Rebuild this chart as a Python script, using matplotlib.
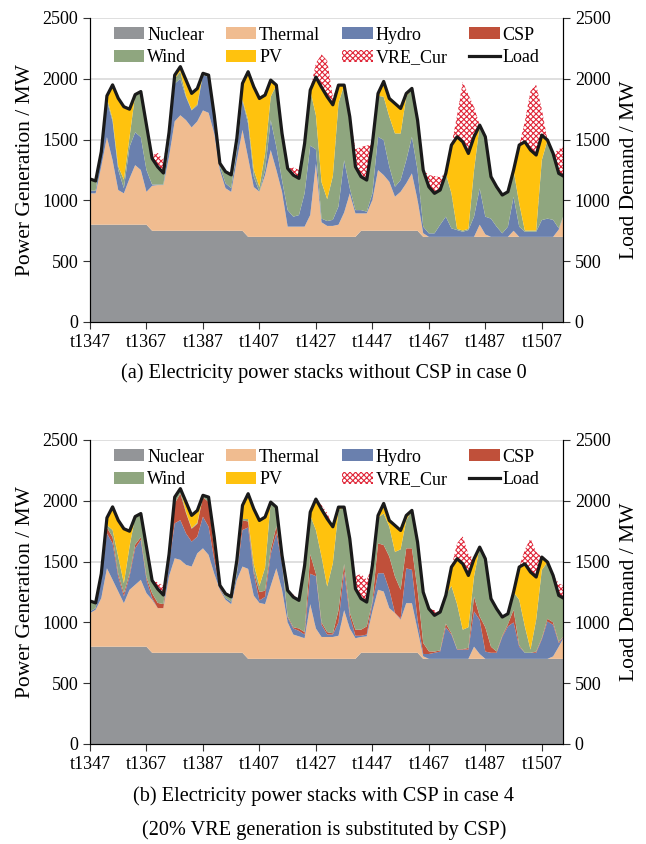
import numpy as np
import matplotlib
matplotlib.use("Agg")
import matplotlib.pyplot as plt

plt.rcParams['font.family'] = ['Liberation Serif', 'DejaVu Serif']
plt.rcParams['hatch.linewidth'] = 0.8

# hours shown, every 2nd hour from t1347
hours = list(range(1347, 1516, 2))
tick_hours = [1347, 1367, 1387, 1407, 1427, 1447, 1467, 1487, 1507]
tick_labels = ['t%d' % h for h in tick_hours]

load = [1176, 1160, 1400, 1860, 1950, 1840, 1770, 1750, 1870, 1895,
        1620, 1345, 1275, 1225, 1560, 2030, 2100, 1990, 1880, 1920,
        2045, 2030, 1700, 1305, 1236, 1210, 1510, 1962, 2058, 1934,
        1838, 1866, 1989, 1948, 1551, 1263, 1208, 1181, 1468, 1907,
        2014, 1930, 1852, 1786, 1948, 1948, 1688, 1277, 1195, 1167,
        1468, 1879, 1978, 1838, 1797, 1756, 1879, 1921, 1660, 1249,
        1112, 1058, 1085, 1222, 1455, 1523, 1482, 1386, 1523, 1619,
        1523, 1195, 1112, 1044, 1071, 1249, 1455, 1482, 1414, 1373,
        1537, 1496, 1386, 1222, 1195]

nuclear = [800] * 11 + [750] * 17 + [700] * 20 + [750] * 11 + [700] * 26

# ---- case 0 (no CSP)
thermal_a = [258, 258, 480, 720, 530, 285, 258, 380, 490, 450,
             270, 370, 376, 376, 610, 900, 950, 910, 850, 900,
             990, 970, 800, 500, 350, 320, 580, 830, 650, 410,
             371, 508, 714, 550, 371, 84, 84, 84, 84, 180,
             600, 120, 90, 90, 100, 200, 358, 193, 143, 143,
             253, 499, 458, 403, 280, 321, 390, 472, 253, 30,
             0, 0, 0, 0, 0, 0, 0, 0, 0, 100,
             20, 0, 0, 0, 0, 50, 0, 0, 0, 0,
             0, 0, 0, 60, 193]
hydro_a = [22, 22, 100, 300, 320, 165, 42, 260, 270, 270,
           180, 10, 4, 4, 110, 310, 300, 190, 140, 130,
           290, 295, 140, 30, 40, 30, 84, 240, 280, 85,
           0, 42, 246, 190, 96, 136, 82, 95, 274, 570,
           120, 30, 40, 50, 150, 430, 42, 27, 27, 14,
           55, 274, 288, 124, 82, 96, 191, 301, 246, 54,
           29, 29, 100, 166, 70, 56, 42, 56, 166, 299,
           146, 150, 84, 29, 84, 280, 84, 42, 42, 42,
           138, 150, 140, 10, 2]
csp_a = [0] * 85
wind_a = [96, 80, 20, 20, 20, 30, 70, 80, 310, 375,
          370, 215, 145, 95, 90, 40, 60, 10, 5, 10,
          15, 15, 10, 25, 96, 110, 96, 10, 30, 55,
          39, 136, 192, 508, 384, 343, 342, 302, 410, 457,
          280, 300, 180, 360, 850, 618, 588, 357, 275, 260,
          410, 337, 356, 411, 439, 383, 521, 398, 411, 465,
          383, 329, 285, 356, 288, 10, 10, 10, 383, 520,
          657, 345, 328, 315, 287, 219, 191, 10, 10, 10,
          493, 646, 546, 452, 300]
pv_a = [0, 0, 0, 20, 280, 560, 600, 230, 0, 0,
        0, 0, 0, 0, 0, 30, 40, 130, 135, 130,
        0, 0, 0, 0, 0, 0, 0, 132, 398, 684,
        728, 480, 137, 0, 0, 0, 0, 0, 0, 0,
        314, 780, 842, 586, 148, 0, 0, 0, 0, 0,
        0, 19, 126, 150, 246, 206, 27, 0, 0, 0,
        0, 0, 0, 0, 397, 757, 730, 620, 274, 0,
        0, 0, 0, 0, 0, 0, 480, 730, 662, 621,
        206, 0, 0, 0, 0]
cur_a = [0, 0, 0, 0, 0, 10, 0, 0, 0, 0,
         0, 25, 115, 105, 0, 0, 0, 0, 0, 0,
         0, 0, 0, 0, 0, 0, 0, 0, 0, 0,
         0, 24, 0, 0, 0, 0, 62, 69, 0, 0,
         115, 270, 298, 64, 0, 0, 0, 143, 245, 283,
         0, 0, 0, 0, 0, 0, 0, 0, 0, 0,
         96, 142, 105, 0, 0, 177, 493, 484, 247, 0,
         0, 0, 0, 0, 0, 0, 0, 168, 486, 577,
         213, 0, 0, 198, 255]

# ---- case 4 (20% VRE replaced by CSP)
thermal_b = [276, 304, 399, 645, 550, 454, 358, 468, 509, 550,
             440, 436, 367, 367, 630, 777, 764, 723, 709, 818,
             859, 805, 650, 518, 436, 400, 600, 709, 740, 520,
             460, 450, 600, 745, 568, 300, 200, 185, 170, 450,
             250, 180, 180, 180, 190, 400, 250, 170, 130, 135,
             340, 518, 504, 367, 327, 272, 408, 408, 190, 21,
             0, 0, 0, 0, 0, 0, 0, 0, 100, 40,
             0, 0, 0, 0, 0, 0, 0, 0, 0, 0,
             0, 0, 20, 100, 185]
hydro_b = [14, 13, 151, 287, 300, 123, 55, 109, 300, 328,
           110, 13, 0, 0, 100, 287, 327, 259, 205, 137,
           260, 232, 114, 12, 14, 20, 50, 301, 340, 180,
           20, 60, 260, 287, 218, 40, 50, 45, 30, 250,
           430, 100, 20, 20, 110, 320, 100, 20, 10, 15,
           68, 136, 150, 151, 0, 8, 287, 274, 82, 19,
           40, 50, 60, 260, 200, 76, 76, 76, 290, 282,
           60, 50, 50, 180, 267, 300, 100, 50, 50, 50,
           160, 308, 260, 30, 5]
csp_b = [0, 0, 20, 48, 50, 23, 27, 23, 31, 22,
         20, 41, 43, 33, 40, 164, 219, 168, 106, 105,
         161, 203, 86, 10, 0, 0, 0, 80, 50, 20,
         70, 50, 40, 58, 14, 10, 10, 20, 20, 160,
         20, 20, 20, 10, 100, 60, 30, 50, 50, 67,
         12, 246, 232, 273, 300, 238, 164, 177, 246, 91,
         22, 10, 10, 30, 10, 4, 4, 14, 123, 28,
         200, 50, 10, 10, 18, 104, 10, 0, 0, 10,
         10, 22, 20, 10, 5]
wind_b = [86, 43, 30, 20, 60, 141, 82, 223, 230, 195,
          250, 105, 115, 75, 40, 42, 30, 10, 5, 10,
          15, 40, 100, 15, 36, 40, 110, 10, 20, 60,
          50, 190, 389, 158, 51, 213, 248, 231, 548, 320,
          360, 541, 375, 576, 823, 468, 608, 337, 255, 200,
          298, 210, 260, 246, 203, 332, 232, 312, 392, 418,
          350, 298, 315, 232, 390, 370, 160, 170, 164, 569,
          563, 395, 352, 154, 86, 145, 376, 217, 26, 262,
          562, 466, 386, 382, 300]
pv_b = [0, 0, 0, 60, 190, 299, 448, 127, 0, 0,
        0, 0, 0, 0, 0, 10, 10, 80, 105, 100,
        0, 0, 0, 0, 0, 0, 0, 112, 208, 454,
        538, 416, 0, 0, 0, 0, 0, 0, 0, 27,
        254, 389, 557, 300, 25, 0, 0, 0, 0, 0,
        0, 19, 82, 51, 217, 156, 38, 0, 0, 0,
        0, 0, 0, 0, 155, 373, 542, 426, 146, 0,
        0, 0, 0, 0, 0, 0, 269, 515, 638, 351,
        105, 0, 0, 0, 0]
cur_b = [0, 0, 0, 0, 0, 0, 0, 0, 0, 0,
         0, 0, 55, 75, 0, 0, 0, 0, 0, 0,
         0, 0, 0, 0, 0, 0, 0, 0, 0, 0,
         0, 0, 0, 0, 0, 0, 22, 0, 0, 0,
         0, 34, 48, 0, 0, 0, 0, 103, 205, 183,
         0, 0, 0, 0, 0, 0, 0, 0, 0, 0,
         0, 42, 0, 0, 0, 127, 228, 174, 0, 0,
         0, 0, 0, 0, 0, 0, 0, 118, 276, 207,
         0, 0, 0, 100, 105]

names = ['Nuclear', 'Thermal', 'Hydro', 'CSP', 'Wind', 'PV']
colors = ['#939598', '#F0BC90', '#6A80AE', '#C0503A', '#8FA67F', '#FFC20E']
cur_color = '#E0283A'


def draw_panel(ax, series, cur):
    polys = ax.stackplot(hours, *series, colors=colors, labels=names, linewidth=0)
    top = np.array(load, dtype=float)
    cur_poly = ax.fill_between(hours, top, top + np.array(cur), facecolor='white',
                               edgecolor=cur_color, hatch='xxxxxx', linewidth=0,
                               label='VRE_Cur')
    load_line, = ax.plot(hours, load, color='#1a1a1a', lw=2.3, label='Load')

    ax.set_xlim(1347, 1514.5)
    ax.set_ylim(0, 2500)
    ax.set_yticks(range(0, 2501, 500))
    ax.set_xticks(tick_hours)
    ax.set_xticklabels(tick_labels)
    ax.yaxis.grid(True, color='#d9d9d9', lw=1.2)
    ax.set_axisbelow(True)
    ax.spines['top'].set_visible(False)
    for s in ['left', 'right', 'bottom']:
        ax.spines[s].set_color('#333333')
    ax.tick_params(labelsize=13, direction='out', length=5, color='#333333')
    ax.set_ylabel('Power Generation / MW', fontsize=15.5, labelpad=5)

    ax2 = ax.twinx()
    ax2.set_ylim(0, 2500)
    ax2.set_yticks(range(0, 2501, 500))
    ax2.spines['top'].set_visible(False)
    ax2.tick_params(labelsize=13, direction='out', length=5, color='#333333')
    ax2.set_ylabel('Load Demand / MW', fontsize=15.5, labelpad=7)

    # legend rows: Nuclear Thermal Hydro CSP / Wind PV VRE_Cur Load
    handles = [polys[0], polys[4], polys[1], polys[5], polys[2], cur_poly, polys[3], load_line]
    leg = ax.legend(handles=handles, ncol=4, loc='upper center', bbox_to_anchor=(0.5, 0.995),
                    frameon=False, fontsize=13, handlelength=1.7, handleheight=0.65,
                    columnspacing=1.2, labelspacing=0.3, handletextpad=0.15,
                    borderaxespad=0.)
    leg.set_zorder(10)


fig = plt.figure(figsize=(6.46, 8.44), dpi=100)
ax_a = fig.add_axes([0.1393, 0.6185, 0.7322, 0.3602])
ax_b = fig.add_axes([0.1393, 0.1185, 0.7322, 0.3602])

draw_panel(ax_a, [nuclear, thermal_a, hydro_a, csp_a, wind_a, pv_a], cur_a)
draw_panel(ax_b, [nuclear, thermal_b, hydro_b, csp_b, wind_b, pv_b], cur_b)

fig.text(0.5015, 0.558, '(a) Electricity power stacks without CSP in case 0',
         ha='center', va='center', fontsize=14.6)
fig.text(0.5015, 0.0569, '(b) Electricity power stacks with CSP in case 4',
         ha='center', va='center', fontsize=14.6)
fig.text(0.5015, 0.0166, '(20% VRE generation is substituted by CSP)',
         ha='center', va='center', fontsize=14.6)

fig.savefig('out.png', dpi=100)
